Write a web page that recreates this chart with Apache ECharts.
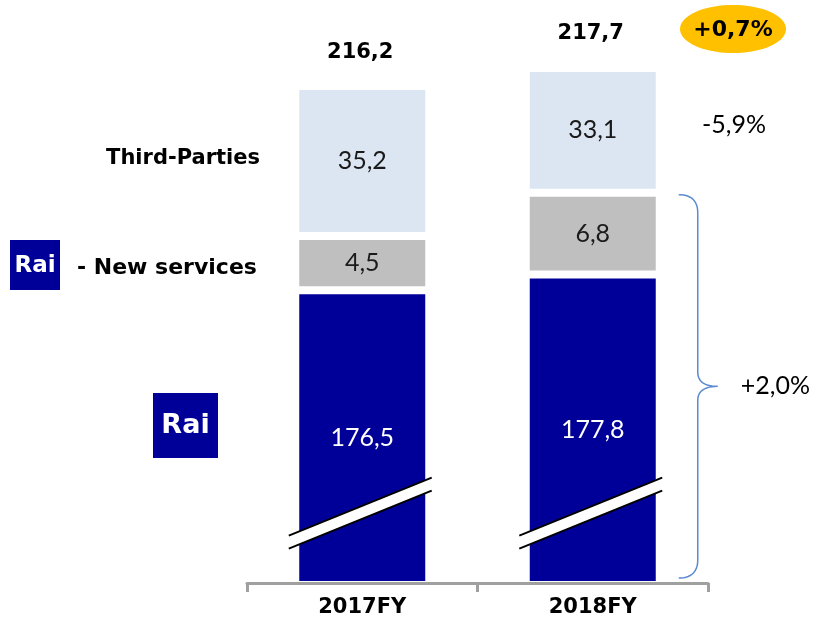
<!DOCTYPE html>
<html>
<head>
<meta charset="utf-8">
<script src="https://cdn.jsdelivr.net/npm/echarts@6/dist/echarts.min.js"></script>
<style>html,body{margin:0;padding:0;background:#fff}#c{width:818px;height:620px}</style>
</head>
<body>
<div id="c"></div>
<script>
// ---- data ----
const categories = ['2017FY', '2018FY'];
const raiValues = [176.5, 177.8];
const newServicesValues = [4.5, 6.8];
const thirdPartiesValues = [35.2, 33.1];
const totalValues = [216.2, 217.7];
const totalChangeText = '+0,7%';
const thirdPartiesChangeText = '-5,9%';
const raiGroupChangeText = '+2,0%';
const segmentLabels = ['Third-Parties', '- New services', 'Rai'];

// ---- styling / config ----
const DARK = '#000099', GREY = '#BFBFBF', LIGHT = '#DCE6F2';
const BOLD_FONT = 'DejaVu Sans';
const REG_FONT = 'Lato';
const axisMin = 152.2;
const slashValue = 158;

const fmt = v => v.toFixed(1).replace('.', ',');

const chart = echarts.init(document.getElementById('c'), null, {renderer: 'canvas'});

function segLabel(color) {
  return {
    show: true, position: 'inside', color: color,
    fontFamily: REG_FONT, fontSize: 25,
    formatter: p => fmt(p.value)
  };
}

function renderSlash(params, api) {
  const p = api.coord([api.value(0), api.value(1)]);
  const half = api.size([1, 0])[0] * 0.31;
  const rise = half * 0.405;
  const g = 6.5;
  const x0 = p[0] - half - 2, x1 = p[0] + half - 2;
  return {
    type: 'group',
    children: [
      {type: 'polygon', shape: {points: [[x0, p[1] + rise - g], [x1, p[1] - rise - g], [x1, p[1] - rise + g], [x0, p[1] + rise + g]]}, style: {fill: '#fff'}},
      {type: 'line', shape: {x1: x0, y1: p[1] + rise - g, x2: x1, y2: p[1] - rise - g}, style: {stroke: '#000', lineWidth: 2}},
      {type: 'line', shape: {x1: x0, y1: p[1] + rise + g, x2: x1, y2: p[1] - rise + g}, style: {stroke: '#000', lineWidth: 2}}
    ]
  };
}

function renderTotal(params, api) {
  const p = api.coord([api.value(0), api.value(1)]);
  return {
    type: 'text',
    style: {
      x: p[0] - 2, y: p[1] - 34, text: fmt(api.value(1)),
      fill: '#000', font: 'bold 21px "' + BOLD_FONT + '"',
      align: 'center', verticalAlign: 'middle'
    }
  };
}

const option = {
  animation: false,
  backgroundColor: '#fff',
  grid: {left: 247, right: 110, top: 68, bottom: 37},
  xAxis: {
    type: 'category', data: categories, z: 10,
    axisLine: {show: true, lineStyle: {color: '#A0A0A0', width: 3}},
    axisTick: {show: true, length: 9, lineStyle: {color: '#A0A0A0', width: 3}},
    axisLabel: {color: '#000', fontFamily: BOLD_FONT, fontWeight: 'bold', fontSize: 21, margin: 14}
  },
  yAxis: {
    type: 'value', show: false, min: axisMin, max: 217.7,
    splitLine: {show: false},
    breaks: [{start: 186, end: 214, gap: 5.25}],
    breakArea: {show: false}
  },
  series: [
    {name: 'Rai', type: 'bar', stack: 'a', data: raiValues, barWidth: 134,
     itemStyle: {color: DARK, borderColor: '#fff', borderWidth: 4}, label: segLabel('#fff')},
    {name: 'New services', type: 'bar', stack: 'a', data: newServicesValues, barWidth: 134,
     itemStyle: {color: GREY, borderColor: '#fff', borderWidth: 4}, label: segLabel('#1a1a1a')},
    {name: 'Third-Parties', type: 'bar', stack: 'a', data: thirdPartiesValues, barWidth: 134,
     itemStyle: {color: LIGHT, borderColor: '#fff', borderWidth: 4}, label: segLabel('#1a1a1a')},
    {type: 'custom', z: 5, renderItem: renderSlash, silent: true,
     data: categories.map((c, i) => [i, slashValue])},
    {type: 'custom', z: 5, renderItem: renderTotal, silent: true,
     data: categories.map((c, i) => [i, totalValues[i]])}
  ]
};
chart.setOption(option);

// ---- annotations ----
function cubic(p0, p1, p2, p3, n) {
  const out = [];
  for (let i = 0; i <= n; i++) {
    const t = i / n, u = 1 - t;
    out.push([
      u*u*u*p0[0] + 3*u*u*t*p1[0] + 3*u*t*t*p2[0] + t*t*t*p3[0],
      u*u*u*p0[1] + 3*u*u*t*p1[1] + 3*u*t*t*p2[1] + t*t*t*p3[1]
    ]);
  }
  return out;
}
const topRaiGroup = chart.convertToPixel({xAxisIndex: 0, yAxisIndex: 0}, [1, raiValues[1] + newServicesValues[1]]);
const base = chart.convertToPixel({xAxisIndex: 0, yAxisIndex: 0}, [1, axisMin]);
const xL = topRaiGroup[0] + 86, xV = xL + 19, xP = xL + 39;
const yT = topRaiGroup[1] + 2, yB = base[1] - 5, yM = (yT + yB) / 2;
const bracePts = [].concat(
  cubic([xL, yT], [xV - 9, yT], [xV, yT + 4], [xV, yT + 18], 12),
  cubic([xV, yM - 14], [xV, yM - 4], [xV + 8, yM], [xP, yM], 12),
  cubic([xP, yM], [xV + 8, yM], [xV, yM + 4], [xV, yM + 14], 12),
  cubic([xV, yB - 18], [xV, yB - 4], [xV - 9, yB], [xL, yB], 12)
);
const pillPts = [];
for (let i = 0; i < 72; i++) {
  const a = i / 72 * Math.PI * 2;
  pillPts.push([733 + 53 * Math.cos(a), 29 + 24 * Math.sin(a)]);
}

chart.setOption({
  graphic: [
    {type: 'polyline', shape: {points: bracePts}, style: {fill: null, stroke: '#5B8BD0', lineWidth: 1.5}},
    {type: 'text', x: xP + 23, y: yM, style: {text: raiGroupChangeText, fill: '#000', font: '25px "' + REG_FONT + '"', align: 'left', verticalAlign: 'middle'}},
    {type: 'polygon', shape: {points: pillPts}, style: {fill: '#FFC000'}},
    {type: 'text', x: 733, y: 30, style: {text: totalChangeText, fill: '#000', font: 'bold 22px "' + BOLD_FONT + '"', align: 'center', verticalAlign: 'middle'}},
    {type: 'text', x: 702, y: 125, style: {text: thirdPartiesChangeText, fill: '#000', font: '25px "' + REG_FONT + '"', align: 'left', verticalAlign: 'middle'}},
    {type: 'text', x: 260, y: 159, style: {text: segmentLabels[0], fill: '#000', font: 'bold 21px "' + BOLD_FONT + '"', align: 'right', verticalAlign: 'middle'}},
    {type: 'rect', shape: {x: 10, y: 240, width: 50, height: 50}, style: {fill: DARK}},
    {type: 'text', x: 35, y: 266, style: {text: segmentLabels[2], fill: '#fff', font: 'bold 23px "' + BOLD_FONT + '"', align: 'center', verticalAlign: 'middle'}},
    {type: 'text', x: 77, y: 268, style: {text: segmentLabels[1], fill: '#000', font: 'bold 22px "' + BOLD_FONT + '"', align: 'left', verticalAlign: 'middle'}},
    {type: 'rect', shape: {x: 153, y: 393, width: 65, height: 65}, style: {fill: DARK}},
    {type: 'text', x: 185.5, y: 426, style: {text: segmentLabels[2], fill: '#fff', font: 'bold 27px "' + BOLD_FONT + '"', align: 'center', verticalAlign: 'middle'}}
  ]
});
</script>
</body>
</html>
